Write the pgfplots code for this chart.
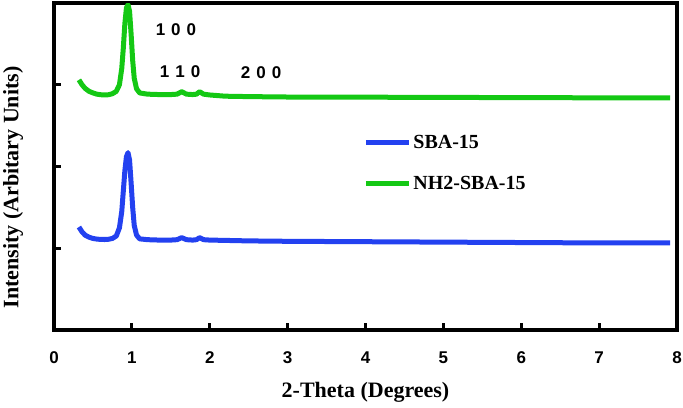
\documentclass[border=0pt]{standalone}
\usepackage{pgfplots}
\pgfplotsset{compat=1.18}
\usepackage{fontspec}
\setmainfont{Liberation Serif}
\newfontfamily\tickfont{Liberation Sans}

\definecolor{sbablue}{RGB}{35,65,240}
\definecolor{nhgreen}{RGB}{20,200,20}

\begin{document}
\begin{tikzpicture}
\begin{axis}[
    scale only axis,
    width=623pt, height=327pt,
    xmin=0, xmax=8, ymin=0, ymax=4,
    xtick={0,1,2,3,4,5,6,7,8},
    ytick={0,1,2,3,4},
    yticklabels={},
    tick align=inside,
    xtick pos=bottom, ytick pos=left,
    major tick length=7pt,
    every tick/.style={black, line width=3pt},
    axis line style={line width=3.5pt},
    /pgf/number format/assume math mode=true,
    tick label style={font=\tickfont\bfseries\fontsize{17}{19}\selectfont},
    xticklabel style={anchor=center, yshift=-28pt},
    xlabel={2-Theta (Degrees)},
    ylabel={Intensity (Arbitary Units)},
    label style={font=\bfseries\fontsize{22}{24}\selectfont},
    xlabel style={at={(axis description cs:0.5,-0.19)}, anchor=center},
    ylabel style={at={(axis description cs:-0.0658,0.436)}, anchor=center},
    legend style={at={(axis cs:3.97,2.04)}, anchor=west, draw=none, fill=none,
        inner sep=0pt, row sep=22pt,
        font=\bfseries\fontsize{20}{22}\selectfont,
        nodes={inner sep=2pt}},
    legend cell align=left,
    legend image code/.code={\draw[#1, line width=5pt] (0pt,0pt) -- (43pt,0pt);},
]

% SBA-15
\addplot[color=sbablue, line width=5pt, line join=round] coordinates {
    (0.32,1.26) (0.36,1.20) (0.40,1.16) (0.45,1.135) (0.50,1.12) (0.55,1.112)
    (0.60,1.108) (0.65,1.107) (0.70,1.11) (0.75,1.12) (0.80,1.15) (0.84,1.25)
    (0.87,1.45) (0.89,1.70) (0.91,1.95) (0.93,2.12) (0.95,2.17) (0.97,2.08)
    (0.99,1.80) (1.01,1.50) (1.03,1.28) (1.06,1.16) (1.10,1.115) (1.20,1.105)
    (1.35,1.10) (1.50,1.10) (1.58,1.105) (1.64,1.13) (1.70,1.105) (1.78,1.10)
    (1.83,1.105) (1.87,1.13) (1.92,1.105) (2.00,1.10) (2.50,1.09) (3.00,1.085)
    (4.00,1.08) (5.00,1.075) (6.00,1.07) (7.00,1.065) (7.91,1.065)
};
\addlegendentry{SBA-15}

% NH2-SBA-15
\addplot[color=nhgreen, line width=5pt, line join=round] coordinates {
    (0.32,3.06) (0.36,3.00) (0.40,2.955) (0.45,2.92) (0.50,2.90) (0.55,2.885)
    (0.60,2.878) (0.65,2.875) (0.70,2.878) (0.75,2.89) (0.80,2.92) (0.84,3.00)
    (0.87,3.20) (0.89,3.45) (0.91,3.75) (0.93,3.94) (0.95,3.98) (0.97,3.90)
    (0.99,3.62) (1.01,3.30) (1.03,3.08) (1.06,2.95) (1.10,2.90) (1.20,2.885)
    (1.35,2.88) (1.50,2.88) (1.58,2.885) (1.64,2.915) (1.70,2.885) (1.78,2.88)
    (1.83,2.885) (1.87,2.915) (1.92,2.885) (2.00,2.875) (2.20,2.86) (2.50,2.855)
    (3.00,2.85) (4.00,2.848) (5.00,2.845) (6.00,2.843) (7.00,2.84) (7.91,2.84)
};
\addlegendentry{NH2-SBA-15}

% peak indices
\node[font=\tickfont\bfseries\fontsize{17}{19}\selectfont] at (axis cs:1.566,3.68) {1\hspace{6pt}0\hspace{6pt}0};
\node[font=\tickfont\bfseries\fontsize{17}{19}\selectfont] at (axis cs:1.62,3.16) {1\hspace{6pt}1\hspace{6pt}0};
\node[font=\tickfont\bfseries\fontsize{17}{19}\selectfont] at (axis cs:2.66,3.15) {2\hspace{6pt}0\hspace{6pt}0};

\coordinate (bbsw) at (rel axis cs:-0.0867,-0.2355);
\coordinate (bbne) at (rel axis cs:1.0096,1.0092);
\end{axis}
\pgfresetboundingbox
\path[use as bounding box] (bbsw) rectangle (bbne);
\end{tikzpicture}
\end{document}
